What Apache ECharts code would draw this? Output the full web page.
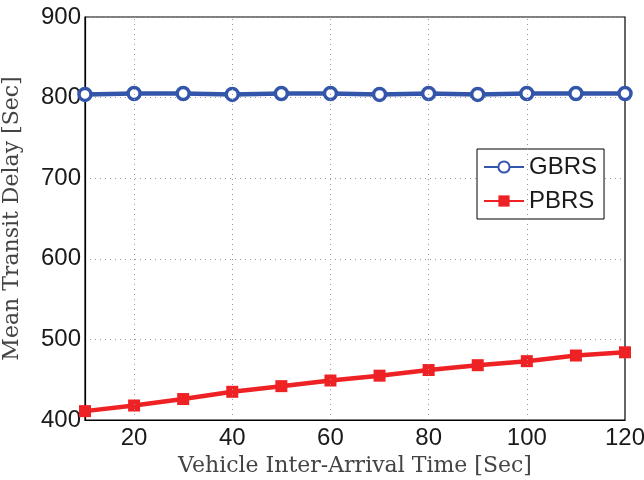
<!DOCTYPE html>
<html>
<head>
<meta charset="utf-8">
<script src="https://cdn.jsdelivr.net/npm/echarts@6/dist/echarts.min.js"></script>
<style>html,body{margin:0;padding:0;background:#fff}#c{width:644px;height:480px}</style>
</head>
<body>
<div id="c"></div>
<script>
const xValues = [10, 20, 30, 40, 50, 60, 70, 80, 90, 100, 110, 120];
const gbrs = [804, 805, 805, 804, 805, 805, 804, 805, 804, 805, 805, 805];
const pbrs = [411, 418, 426, 435, 442, 449, 455, 462, 468, 473, 480, 484];
const xGridTicks = [20, 40, 60, 80, 100];
const xTitle = 'Vehicle Inter-Arrival Time [Sec]';
const yTitle = 'Mean Transit Delay [Sec]';

const chart = echarts.init(document.getElementById('c'), null, {renderer: 'canvas'});
const tickFont = {fontFamily: 'Liberation Sans, Arial, sans-serif', fontSize: 24, color: '#1a1a1a'};
const titleFont = {fontFamily: 'DejaVu Serif, Liberation Serif, serif', fontSize: 22, color: '#444'};

chart.setOption({
  animation: false,
  backgroundColor: '#fff',
  grid: {left: 85, right: 19, top: 17, bottom: 60, show: true, borderColor: '#000', borderWidth: 1.2,
         backgroundColor: 'transparent', containLabel: false, outerBoundsMode: 'none'},
  xAxis: {
    type: 'value', min: 10, max: 120, interval: 10,
    name: xTitle, nameLocation: 'middle', nameGap: 35,
    nameTextStyle: titleFont,
    axisLine: {show: true, lineStyle: {color: '#000', width: 1.2}},
    axisTick: {show: false},
    axisLabel: Object.assign({margin: 6, formatter: v => (v % 20 === 0 ? String(v) : '')}, tickFont),
    splitLine: {show: false}
  },
  yAxis: {
    type: 'value', min: 400, max: 900, interval: 100,
    name: yTitle, nameLocation: 'middle', nameGap: 62,
    nameTextStyle: titleFont,
    axisLine: {show: true, lineStyle: {color: '#000', width: 1.2}},
    axisTick: {show: false},
    axisLabel: Object.assign({margin: 4}, tickFont),
    splitLine: {show: true, lineStyle: {color: '#999', type: [1, 4], width: 1}}
  },
  legend: {
    orient: 'vertical', left: 477, top: 149,
    backgroundColor: '#fff',
    borderColor: '#000', borderWidth: 1,
    padding: [6, 7, 6, 6], itemGap: 10,
    itemWidth: 40, itemHeight: 14,
    textStyle: {fontFamily: 'Liberation Sans, Arial, sans-serif', fontSize: 24, color: '#1a1a1a'},
    data: ['GBRS', 'PBRS']
  },
  series: [
    {
      name: 'GBRS', type: 'line', data: xValues.map((x, i) => [x, gbrs[i]]),
      symbol: 'circle', symbolSize: 12,
      lineStyle: {color: '#3456aa', width: 4.5},
      itemStyle: {color: '#fff', borderColor: '#3456aa', borderWidth: 3.5},
      z: 3,
      markLine: {
        silent: true, symbol: 'none', label: {show: false},
        lineStyle: {color: '#999', type: [1, 4], width: 1},
        data: xGridTicks.map(v => ({xAxis: v}))
      }
    },
    {
      name: 'PBRS', type: 'line', data: xValues.map((x, i) => [x, pbrs[i]]),
      symbol: 'rect', symbolSize: 12,
      lineStyle: {color: '#ee2124', width: 4.5},
      itemStyle: {color: '#ee2124'},
      z: 3
    }
  ]
});
</script>
</body>
</html>
